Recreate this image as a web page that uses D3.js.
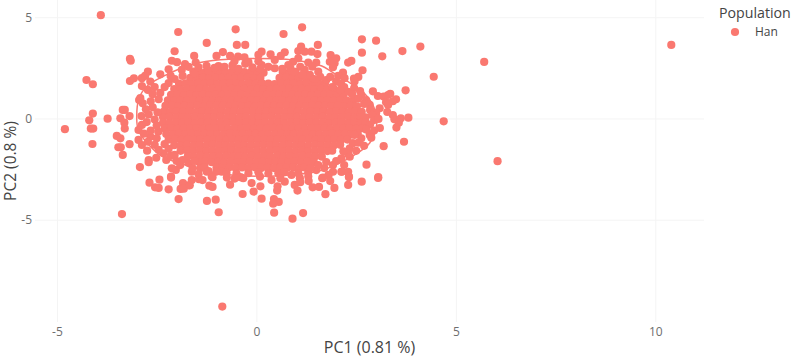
<!DOCTYPE html>
<html>
<head>
<meta charset="utf-8">
<script src="https://cdn.jsdelivr.net/npm/d3@7"></script>
<style>
  html, body { margin: 0; padding: 0; background: #fff; }
  text { font-family: "Open Sans", sans-serif; }
</style>
</head>
<body>
<div id="chart"></div>
<script>
//Values
const populations = ['Han'];
const xTicks = [-5, 0, 5, 10];
const yTicks = [-5, 0, 5];
const xTitle = 'PC1 (0.81 %)';
const yTitle = 'PC2 (0.8 %)';
const legendTitle = 'Population';

//the stat ellipse outline, [PC1, PC2]
const ellipsePoints = [
    [-3.0,.02],[-2.94,1.01],[-2.71,1.65],[-2.26,2.15],[-1.74,2.59],[-1.09,2.86],[-.16,2.96],[.91,2.89],
    [1.64,2.59],[1.89,2.3],[2.39,1.7],[2.79,1.06],[3.01,.17],[3.0,-.47],[2.84,-1.21],[2.46,-1.8],
    [1.66,-2.54],[.84,-2.79],[-.16,-2.84],[-1.01,-2.69],[-1.59,-2.4],[-2.34,-1.9],[-2.74,-1.21],[-2.96,-.57]
];

//samples that stand clear of the cloud, [PC1, PC2]
const outerPoints = [
    [-3.9,5.1],[-1.96,4.27],[-.52,4.4],[-1.245,3.73],[-.49,3.63],[-.28,3.63],[-2.05,3.32],[-1.56,3.09],
    [-3.17,2.95],[-3.15,2.85],[-4.26,1.9],[-4.1,1.69],[-3.17,1.85],[-3.07,1.98],[-4.1,.24],[-4.19,-.09],
    [-4.15,-.5],[-4.09,-.5],[-4.8,-.53],[-4.11,-1.26],[-3.73,-.01],[-3.35,.42],[-3.3,.42],[-3.41,.01],
    [-3.18,.12],[-3.31,-.21],[-3.3,-.5],[-3.5,-.86],[-3.41,-.98],[-3.46,-1.42],[-3.4,-1.42],[-3.35,-1.8],
    [-3.18,-1.27],[-2.92,-2.4],[-2.7,-2.05],[-2.7,-2.16],[-2.51,-1.94],[-2.74,-1.59],[-2.94,.91],[-2.91,1.0],
    [-3.37,-4.72],[-.855,-9.29],[-.945,-4.63],[-1.24,-4.07],[-1.02,-4.01],[-1.95,-3.98],[-2.2,-3.5],[-2.68,-3.17],
    [-2.54,-3.4],[-2.45,-3.43],[-2.43,-3.02],[-2.14,-2.92],[-1.84,-3.19],[-1.9,-3.48],[-1.82,-3.47],[-1.67,-3.3],
    [-1.62,-3.04],[-1.44,-3.0],[-1.35,-3.04],[-1.18,-3.32],[-1.1,-3.38],[-1.1,-2.9],[-.74,-2.92],[-.66,-3.27],
    [-.545,-2.97],[-.33,-2.95],[-.345,-3.73],[-.07,-3.61],[-.12,-3.19],[.1,-3.35],[.13,-3.96],[.44,-3.98],
    [.56,-4.12],[.42,-4.21],[.445,-4.65],[1.17,-4.67],[.905,-4.95],[.53,-3.35],[.52,-3.56],[.96,-3.28],
    [1.03,-3.56],[1.1,-3.15],[1.31,-3.09],[1.41,-3.4],[1.57,-3.38],[1.73,-3.74],[1.955,-3.43],[1.85,-3.09],
    [2.3,-3.28],[2.64,-3.12],[3.05,-2.94],[2.32,-2.9],[1.65,-2.95],[1.145,4.5],[.68,4.17],[2.645,3.91],
    [3.0,3.84],[1.54,3.63],[1.12,3.55],[4.11,3.55],[3.66,3.33],[2.645,3.25],[3.155,3.07],[5.71,2.79],
    [4.445,2.06],[2.66,2.38],[2.555,2.05],[2.445,1.97],[2.38,2.84],[2.3,2.76],[3.74,1.39],[2.92,1.34],
    [3.355,1.22],[3.3,1.16],[3.045,1.11],[3.19,1.08],[3.5,.95],[3.42,.85],[3.25,.8],[3.3,.67],
    [3.28,.32],[3.42,.17],[3.46,-.04],[3.62,.01],[3.81,.04],[4.695,-.14],[3.57,-.21],[3.51,-.45],
    [3.095,-.47],[3.06,-.02],[3.7,-1.15],[3.19,-1.37],[6.045,-2.11],[2.76,-2.28],[3.055,-2.9],[2.14,-2.63],
    [2.3,-2.63],[2.32,-2.87],[10.4,3.63]
];

//samples on the rim of the cloud, [PC1, PC2]
const rimPoints = [
    [-2.12,2.85],[-1.99,2.78],[-1.79,2.68],[-1.52,2.76],[-1.0,3.09],[-.84,3.28],[-.66,3.09],[-.46,3.05],
    [-.3,3.02],[-2.2,2.43],[-2.41,2.18],[-2.72,2.31],[-2.87,1.99],[-2.79,2.1],[-2.87,1.6],[-2.66,1.82],
    [-2.72,1.41],[-2.77,.45],[-2.41,1.26],[-1.87,2.4],[-1.58,2.31],[-1.2,2.36],[-2.955,-.57],[-2.87,-.32],
    [-2.955,-1.06],[-2.87,-1.31],[-2.66,-.9],[-2.46,-.65],[-2.5,-.98],[-2.3,-1.27],[-2.33,-1.72],[-2.26,-2.05],
    [-2.15,-1.85],[-2.14,-2.87],[-2.02,-2.54],[-1.91,-2.3],[-2.12,-2.46],[-1.62,-2.63],[-1.41,-2.46],[-1.12,-2.87],
    [-1.245,-2.63],[-.87,-2.63],[-1.7,-3.3],[.13,3.3],[.355,3.17],[.71,3.27],[.61,3.09],[.05,3.14],
    [1.05,3.33],[1.21,3.3],[1.38,3.3],[1.53,3.18],[1.86,3.13],[2.0,2.97],[1.84,2.8],[1.96,2.73],
    [1.92,2.53],[2.17,2.26],[2.05,2.1],[2.21,1.99],[1.3,2.76],[1.5,2.76],[1.4,2.56],[.92,2.8],
    [1.05,2.97],[1.21,2.4],[1.34,2.15],[1.55,2.31],[1.75,1.9],[2.0,1.82],[2.46,1.82],[2.3,1.32],
    [2.63,1.16],[2.75,.91],[2.84,.67],[3.09,.5],[3.0,.26],[.46,2.89],[.13,2.64],[.46,2.48],
    [.8,2.64],[2.13,-2.63],[1.92,-2.3],[1.92,-2.63],[1.81,-2.79],[1.67,-2.92],[2.13,-1.97],[2.34,-1.89],
    [2.34,-1.47],[2.63,-.98],[2.84,-.81],[2.46,-.81],[2.42,-1.22],[1.3,-2.87],[1.09,-2.95],[.88,-2.79],
    [.71,-3.12],[.38,-3.04],[.09,-2.87],[-.28,2.7],[-.6,2.62],[-.95,2.58],[-.1,2.52],
    //band between the solid middle and the ellipse
    [-2.55,1.55],[-2.6,1.2],[-2.45,.95],[-2.65,.85],[-2.85,.75],[-2.6,.55],[-2.48,.3],[-2.7,.2],
    [-2.88,.12],[-2.55,-.05],[-2.75,-.18],[-2.5,-.35],[-2.65,-.6],[-2.82,-.75],[-2.72,-1.15],[-2.55,-1.3],
    [-2.45,-1.55],[-2.2,-1.5],[-2.2,1.75],[-2.3,1.55],[-2.05,1.95],[-2.15,2.1],[-1.85,2.1],[-1.55,2.22],
    [-1.7,2.55],[-1.45,2.52],[-1.25,2.6],[-1.05,2.5],[-.8,2.55],[-.45,2.45],[-.55,2.82],[-.2,2.78],
    [.1,2.45],[.3,2.55],[.65,2.45],[.85,2.5],[1.1,2.55],[.95,2.3],[1.15,2.15],[.05,2.82],
    [1.6,2.05],[1.45,1.95],[1.85,2.05],[1.9,1.55],[2.12,1.72],[2.2,1.55],[2.45,1.5],[2.6,1.35],
    [2.1,1.4],[2.4,1.2],[2.55,.98],[2.7,.72],[2.85,.42],[2.9,.18],[2.95,-.08],[2.85,-.3],
    [2.95,-.6],[2.75,-.55],[2.88,-.95],[2.55,-1.2],[2.7,-1.35],[2.5,-1.6],[2.3,-1.75],[2.18,-1.62],
    [-1.45,-2.75],[-1.0,-2.62],[-.75,-2.68],[-.5,-2.72],[-.2,-2.7],[.05,-2.65],[.3,-2.72],[.55,-2.7],
    [.7,-2.65],[1.05,-2.7],[1.3,-2.65],[1.5,-2.55],[1.7,-2.45],[2.0,-2.1],[1.75,-2.15],[1.55,-2.3],
    [2.2,-2.3],[1.35,-2.45],[-1.7,-2.2],[-1.85,-2.05],[-2.05,-1.8],[-2.0,-2.1],[-1.6,-2.45],[-1.3,-2.4],
    [-1.55,-2.1],[-1.2,-2.6],[-.4,-2.9],[.6,-2.95]
];

//the solid middle of the cloud, too dense to separate, estimated, [PC1, PC2]
const corePoints = [
    [-1.42,2.28],[-1.26,2.3],[-1.1,2.26],[-.94,2.29],[-.78,2.27],[-.62,2.3],[-.46,2.26],[-.3,2.29],[-.14,2.28],[.02,2.3],[.18,2.26],[.66,2.29],[.82,2.27],[.98,2.3],
    [-1.66,2.01],[-1.5,1.99],[-1.34,2.02],[-1.18,1.98],[-1.02,2.01],[-.86,2.0],[-.7,2.02],[-.54,1.98],[-.38,2.0],[-.22,2.02],[-.06,1.99],[.1,2.01],[.58,2.0],[.74,2.02],[.9,1.98],[1.06,2.0],[1.22,2.01],[1.36,1.99],
    [-1.94,1.72],[-1.78,1.74],[-1.62,1.7],[-1.46,1.73],[-1.3,1.71],[-1.14,1.74],[-.98,1.7],[-.82,1.73],[-.66,1.72],[-.5,1.74],[-.34,1.7],[-.18,1.73],[-.02,1.71],[.14,1.74],[.3,1.72],[.46,1.7],[.62,1.73],[.78,1.71],[.94,1.74],[1.1,1.7],[1.26,1.73],[1.42,1.72],[1.58,1.71],[1.72,1.73],
    [-2.06,1.45],[-1.9,1.43],[-1.74,1.46],[-1.58,1.44],[-1.42,1.47],[-1.26,1.43],[-1.1,1.46],[-.94,1.45],[-.78,1.43],[-.62,1.46],[-.46,1.44],[-.3,1.47],[-.14,1.43],[.02,1.46],[.18,1.45],[.34,1.43],[.5,1.46],[.66,1.44],[.82,1.47],[.98,1.43],[1.14,1.46],[1.3,1.45],[1.46,1.43],[1.62,1.46],[1.78,1.44],[1.94,1.46],
    [-2.14,1.17],[-1.98,1.19],[-1.82,1.15],[-1.66,1.18],[-1.5,1.16],[-1.34,1.19],[-1.18,1.15],[-1.02,1.18],[-.86,1.17],[-.7,1.19],[-.54,1.15],[-.38,1.18],[-.22,1.16],[-.06,1.19],[.1,1.15],[.26,1.18],[.42,1.17],[.58,1.19],[.74,1.15],[.9,1.18],[1.06,1.16],[1.22,1.19],[1.38,1.15],[1.54,1.18],[1.7,1.17],[1.86,1.19],[2.02,1.15],[2.18,1.18],
    [-2.22,.89],[-2.06,.87],[-1.9,.9],[-1.74,.88],[-1.58,.91],[-1.42,.87],[-1.26,.9],[-1.1,.89],[-.94,.87],[-.78,.9],[-.62,.88],[-.46,.91],[-.3,.87],[-.14,.9],[.02,.89],[.18,.87],[.34,.9],[.5,.88],[.66,.91],[.82,.87],[.98,.9],[1.14,.89],[1.3,.87],[1.46,.9],[1.62,.88],[1.78,.91],[1.94,.87],[2.1,.9],[2.26,.89],[2.42,.87],
    [-2.28,.62],[-2.12,.64],[-1.96,.6],[-1.8,.63],[-1.64,.61],[-1.48,.64],[-1.32,.6],[-1.16,.63],[-1.0,.62],[-.84,.64],[-.68,.6],[-.52,.63],[-.36,.61],[-.2,.64],[-.04,.6],[.12,.63],[.28,.62],[.44,.64],[.6,.6],[.76,.63],[.92,.61],[1.08,.64],[1.24,.6],[1.4,.63],[1.56,.62],[1.72,.64],[1.88,.6],[2.04,.63],[2.2,.61],[2.36,.64],[2.52,.6],
    [-2.32,.34],[-2.16,.32],[-2.0,.35],[-1.84,.33],[-1.68,.36],[-1.52,.32],[-1.36,.35],[-1.2,.34],[-1.04,.32],[-.88,.35],[-.72,.33],[-.56,.36],[-.4,.32],[-.24,.35],[-.08,.34],[.08,.32],[.24,.35],[.4,.33],[.56,.36],[.72,.32],[.88,.35],[1.04,.34],[1.2,.32],[1.36,.35],[1.52,.33],[1.68,.36],[1.84,.32],[2.0,.35],[2.16,.34],[2.32,.32],[2.48,.35],[2.64,.33],
    [-2.34,.06],[-2.18,.08],[-2.02,.04],[-1.86,.07],[-1.7,.05],[-1.54,.08],[-1.38,.04],[-1.22,.07],[-1.06,.06],[-.9,.08],[-.74,.04],[-.58,.07],[-.42,.05],[-.26,.08],[-.1,.04],[.06,.07],[.22,.06],[.38,.08],[.54,.04],[.7,.07],[.86,.05],[1.02,.08],[1.18,.04],[1.34,.07],[1.5,.06],[1.66,.08],[1.82,.04],[1.98,.07],[2.14,.05],[2.3,.08],[2.46,.04],[2.62,.07],[2.74,.05],
    [-2.34,-.21],[-2.18,-.23],[-2.02,-.2],[-1.86,-.22],[-1.7,-.19],[-1.54,-.23],[-1.38,-.2],[-1.22,-.21],[-1.06,-.23],[-.9,-.2],[-.74,-.22],[-.58,-.19],[-.42,-.23],[-.26,-.2],[-.1,-.21],[.06,-.23],[.22,-.2],[.38,-.22],[.54,-.19],[.7,-.23],[.86,-.2],[1.02,-.21],[1.18,-.23],[1.34,-.2],[1.5,-.22],[1.66,-.19],[1.82,-.23],[1.98,-.2],[2.14,-.21],[2.3,-.23],[2.46,-.2],[2.62,-.22],[2.74,-.19],
    [-2.3,-.49],[-2.14,-.47],[-1.98,-.51],[-1.82,-.48],[-1.66,-.5],[-1.5,-.47],[-1.34,-.51],[-1.18,-.48],[-1.02,-.49],[-.86,-.47],[-.7,-.51],[-.54,-.48],[-.38,-.5],[-.22,-.47],[-.06,-.51],[.1,-.48],[.26,-.49],[.42,-.47],[.58,-.51],[.74,-.48],[.9,-.5],[1.06,-.47],[1.22,-.51],[1.38,-.48],[1.54,-.49],[1.7,-.47],[1.86,-.51],[2.02,-.48],[2.18,-.5],[2.34,-.47],[2.5,-.51],[2.66,-.48],
    [-2.26,-.77],[-2.1,-.79],[-1.94,-.75],[-1.78,-.78],[-1.62,-.76],[-1.46,-.79],[-1.3,-.75],[-1.14,-.78],[-.98,-.77],[-.82,-.79],[-.66,-.75],[-.5,-.78],[-.34,-.76],[-.18,-.79],[-.02,-.75],[.14,-.78],[.3,-.77],[.46,-.79],[.62,-.75],[.78,-.78],[.94,-.76],[1.1,-.79],[1.26,-.75],[1.42,-.78],[1.58,-.77],[1.74,-.79],[1.9,-.75],[2.06,-.78],[2.22,-.76],[2.38,-.79],[2.54,-.75],
    [-2.2,-1.04],[-2.04,-1.02],[-1.88,-1.05],[-1.72,-1.03],[-1.56,-1.06],[-1.4,-1.02],[-1.24,-1.05],[-1.08,-1.04],[-.92,-1.02],[-.76,-1.05],[-.6,-1.03],[-.44,-1.06],[-.28,-1.02],[-.12,-1.05],[.04,-1.04],[.2,-1.02],[.36,-1.05],[.52,-1.03],[.68,-1.06],[.84,-1.02],[1.0,-1.05],[1.16,-1.04],[1.32,-1.02],[1.48,-1.05],[1.64,-1.03],[1.8,-1.06],[1.96,-1.02],[2.12,-1.05],[2.28,-1.04],
    [-2.06,-1.32],[-1.9,-1.34],[-1.74,-1.3],[-1.58,-1.33],[-1.42,-1.31],[-1.26,-1.34],[-1.1,-1.3],[-.94,-1.33],[-.78,-1.32],[-.62,-1.34],[-.46,-1.3],[-.3,-1.33],[-.14,-1.31],[.02,-1.34],[.18,-1.3],[.34,-1.33],[.5,-1.32],[.66,-1.34],[.82,-1.3],[.98,-1.33],[1.14,-1.31],[1.3,-1.34],[1.46,-1.3],[1.62,-1.33],[1.78,-1.32],[1.94,-1.34],[2.1,-1.3],
    [-1.9,-1.6],[-1.74,-1.58],[-1.58,-1.61],[-1.42,-1.59],[-1.26,-1.62],[-1.1,-1.58],[-.94,-1.61],[-.78,-1.6],[-.62,-1.58],[-.46,-1.61],[-.3,-1.59],[-.14,-1.62],[.02,-1.58],[.18,-1.61],[.34,-1.6],[.5,-1.58],[.66,-1.61],[.82,-1.59],[.98,-1.62],[1.14,-1.58],[1.3,-1.61],[1.46,-1.6],[1.62,-1.58],[1.78,-1.61],[1.9,-1.59],
    [-1.72,-1.87],[-1.56,-1.89],[-1.4,-1.85],[-1.24,-1.88],[-1.08,-1.86],[-.92,-1.89],[-.76,-1.85],[-.6,-1.88],[-.44,-1.87],[-.28,-1.89],[-.12,-1.85],[.04,-1.88],[.2,-1.86],[.36,-1.89],[.52,-1.85],[.68,-1.88],[.84,-1.87],[1.0,-1.89],[1.16,-1.85],[1.32,-1.88],[1.48,-1.86],[1.64,-1.89],
    [-1.44,-2.15],[-1.28,-2.13],[-1.12,-2.16],[-.96,-2.14],[-.8,-2.17],[-.64,-2.13],[-.48,-2.16],[-.32,-2.15],[-.16,-2.13],[0,-2.16],[.16,-2.14],[.32,-2.17],[.48,-2.13],[.64,-2.16],[.8,-2.15],[.96,-2.13],[1.12,-2.16],[1.28,-2.14],[1.44,-2.17],
    [-1.0,-2.43],[-.84,-2.45],[-.68,-2.41],[-.52,-2.44],[-.36,-2.42],[-.2,-2.45],[-.04,-2.41],[.12,-2.44],[.28,-2.43],[.44,-2.45],[.6,-2.41],[.76,-2.44],[.92,-2.42],[1.08,-2.45],[1.2,-2.41]
];

//Define constants
const width = 791;
const height = 357;
const panel = { left: 35, right: 704, top: 0, bottom: 322 };
const hanColour = '#FA7870';
const gridColour = '#F4F4F4';
const tickColour = '#6E6E6E';
const titleColour = '#444';
const pointRadius = 4.1;

//scale limits put the ticks where they sit in the picture
const x = d3.scaleLinear().domain([-5.55, 11.22]).range([panel.left, panel.right]);
const y = d3.scaleLinear().domain([-10.05, 5.85]).range([panel.bottom, panel.top]);

const svg = d3.select('#chart')
    .append('svg')
    .attr('width', width)
    .attr('height', height)
    .style('display', 'block');

//x axis and vertical grid lines
const xAxis = svg.append('g')
    .attr('transform', `translate(0,${panel.bottom})`)
    .call(d3.axisBottom(x).tickValues(xTicks).tickFormat(d3.format('d')).tickSize(-(panel.bottom - panel.top)).tickPadding(5));

//y axis and horizontal grid lines
const yAxis = svg.append('g')
    .attr('transform', `translate(${panel.left},0)`)
    .call(d3.axisLeft(y).tickValues(yTicks).tickFormat(d3.format('d')).tickSize(-(panel.right - panel.left)).tickPadding(3));

[xAxis, yAxis].forEach(axis => {
    axis.select('.domain').remove();
    axis.selectAll('line').attr('stroke', gridColour).attr('stroke-width', 1);
    axis.selectAll('text')
        .attr('fill', tickColour)
        .style('font-size', '12px')
        .text(d => d < 0 ? '-' + Math.abs(d) : d);
});

const line = d3.line()
    .x(d => x(d[0]))
    .y(d => y(d[1]))
    .curve(d3.curveCatmullRomClosed);

svg.append('path')
    .attr('d', line(ellipsePoints))
    .attr('fill', 'none')
    .attr('stroke', hanColour)
    .attr('stroke-width', 1.5);

svg.append('g')
    .selectAll('circle')
    .data(corePoints.concat(rimPoints, outerPoints))
    .enter().append('circle')
    .attr('cx', d => x(d[0]))
    .attr('cy', d => y(d[1]))
    .attr('r', pointRadius)
    .attr('fill', hanColour);

//axis titles
svg.append('text')
    .attr('x', (panel.left + panel.right) / 2)
    .attr('y', 353)
    .attr('text-anchor', 'middle')
    .attr('fill', titleColour)
    .style('font-size', '16px')
    .text(xTitle);

svg.append('text')
    .attr('transform', `translate(16,${(panel.top + panel.bottom) / 2}) rotate(-90)`)
    .attr('text-anchor', 'middle')
    .attr('fill', titleColour)
    .style('font-size', '15.5px')
    .text(yTitle);

//legend
svg.append('text')
    .attr('x', 719)
    .attr('y', 18)
    .attr('fill', titleColour)
    .style('font-size', '14.2px')
    .text(legendTitle);

const legendItem = svg.selectAll('.legend-item')
    .data(populations)
    .enter().append('g')
    .attr('class', 'legend-item');

legendItem.append('circle')
    .attr('cx', 735)
    .attr('cy', 32)
    .attr('r', pointRadius)
    .attr('fill', hanColour);

legendItem.append('text')
    .attr('x', 755)
    .attr('y', 36)
    .attr('fill', titleColour)
    .style('font-size', '12px')
    .text(d => d);
</script>
</body>
</html>
